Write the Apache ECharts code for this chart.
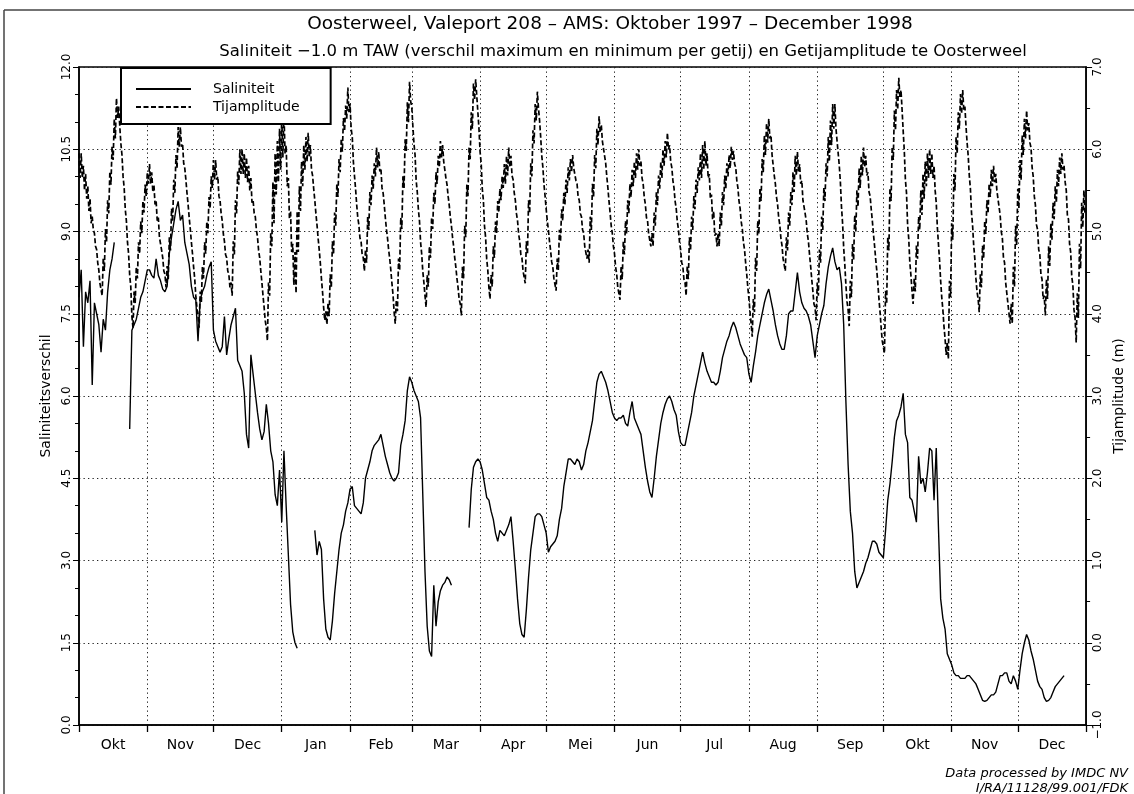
<!DOCTYPE html>
<html><head><meta charset="utf-8">
<script src="https://cdn.jsdelivr.net/npm/echarts@6/dist/echarts.min.js"></script>
<style>html,body{margin:0;padding:0;background:#fff}#chart{width:1134px;height:794px}</style>
</head><body><div id="chart"></div>
<script>
// ---------- DATA ----------
const monthLabels = ['Okt','Nov','Dec','Jan','Feb','Mar','Apr','Mei','Jun','Jul','Aug','Sep','Okt','Nov','Dec'];
const leftTicks = [0, 1.5, 3, 4.5, 6, 7.5, 9, 10.5, 12];
const rightTicks = [-1, 0, 1, 2, 3, 4, 5, 6, 7];

// Salinity difference: daily values, in segments (start day counted from 1 Oct 1997)
const salStartDays = [0, 23, 107, 177];
const salA = [7.8,8.3,6.9,7.9,7.7,8.1,6.2,7.7,7.5,7.3,6.8,7.4,7.2,7.9,8.3,8.5,8.8];
const salB = [5.4,
  7.2,7.3,7.4,7.6,7.8,7.9,8.1,8.3,8.3,8.2,8.15,8.5,8.2,8.1,7.95,7.9,8.0,8.6,8.9,9.15,9.4,9.55,9.2,9.3,8.8,8.6,8.4,8.0,7.8,7.75,7.0,7.75,7.9,8.0,8.2,8.35,8.45,
  7.2,7.0,6.9,6.8,6.9,7.45,6.75,7.05,7.3,7.45,7.6,6.65,6.55,6.45,6.05,5.3,5.05,6.75,6.4,6.05,5.7,5.4,5.2,5.35,5.85,5.5,5.0,4.8,4.2,4.0,4.65,3.7,5.0,4.0,3.1,2.2,1.7,1.5,1.4];
const salC = [3.55,3.1,3.35,3.2,2.3,1.75,1.6,1.55,1.9,2.4,2.8,3.2,3.5,3.65,3.9,4.05,4.3,4.35,4.0,3.95,3.9,3.85,4.05,4.5,4.65,4.8,5.0,5.1,5.15,5.2,5.3,5.1,4.9,4.75,4.6,4.5,4.45,4.5,4.6,5.1,5.3,5.55,6.1,6.35,6.25,6.1,6.0,5.9,5.6,4.2,2.8,1.8,1.35,1.25,2.55,1.8,2.25,2.45,2.55,2.6,2.7,2.65,2.55];
const salD = [3.6,4.3,4.7,4.8,4.85,4.8,4.65,4.4,4.15,4.1,3.9,3.75,3.5,3.35,3.55,3.5,3.45,3.55,3.65,3.8,3.35,2.85,2.3,1.85,1.65,1.6,2.1,2.7,3.2,3.5,
  3.8,3.85,3.85,3.8,3.65,3.5,3.15,3.25,3.3,3.35,3.45,3.75,3.95,4.35,4.6,4.85,4.85,4.8,4.75,4.85,4.8,4.65,4.75,5.0,5.15,5.35,5.55,5.9,6.25,6.4,
  6.45,6.35,6.25,6.1,5.9,5.7,5.6,5.55,5.6,5.6,5.65,5.5,5.45,5.7,5.9,5.6,5.5,5.4,5.3,5.0,4.7,4.45,4.25,4.15,4.5,4.9,5.2,5.5,5.7,5.85,
  5.95,6.0,5.9,5.75,5.65,5.35,5.15,5.1,5.1,5.3,5.5,5.7,6.0,6.2,6.4,6.6,6.8,6.6,6.45,6.35,6.25,6.25,6.2,6.25,6.45,6.7,6.85,7.0,7.1,7.25,
  7.35,7.25,7.1,6.95,6.85,6.75,6.7,6.4,6.25,6.55,6.8,7.1,7.3,7.5,7.7,7.85,7.95,7.75,7.55,7.3,7.1,6.95,6.85,6.85,7.1,7.5,7.55,7.55,7.9,8.25,
  7.9,7.7,7.6,7.55,7.45,7.3,7.0,6.7,7.1,7.3,7.5,7.65,8.05,8.35,8.55,8.7,8.45,8.3,8.35,8.05,7.3,5.9,4.75,3.9,3.5,2.8,2.5,2.6,2.7,2.8,
  2.95,3.05,3.2,3.35,3.35,3.3,3.15,3.1,3.05,3.55,4.1,4.4,4.8,5.25,5.55,5.65,5.8,6.05,5.3,5.15,4.15,4.1,3.9,3.7,4.9,4.4,4.5,4.25,4.6,5.05,
  5.0,4.1,5.05,3.6,2.3,1.95,1.75,1.3,1.2,1.1,0.95,0.9,0.9,0.85,0.85,0.85,0.9,0.9,0.85,0.8,0.75,0.65,0.55,0.45,0.43,0.45,0.5,0.55,0.55,0.6,
  0.75,0.9,0.9,0.95,0.95,0.8,0.75,0.9,0.8,0.65,1.0,1.3,1.5,1.65,1.55,1.35,1.2,1.0,0.8,0.7,0.65,0.5,0.43,0.45,0.5,0.6,0.7,0.75,0.8,0.85,0.9];
const salSegments = [salA, salB, salC, salD];

// Tidal amplitude (m): two values per day (per half day) from 1 Oct 1997
const tidal = [
5.95,5.65,5.95,5.65,5.8,5.5,5.7,5.4,5.55,5.25,5.4,5.1,5.18,5.02,4.98,4.82,4.78,4.62,4.53,4.37,
4.38,4.22,4.68,4.52,5.03,4.87,5.38,5.22,5.73,5.57,6.03,5.87,6.37,6.13,6.62,6.38,6.52,6.28,6.07,5.93,
5.67,5.53,5.27,5.13,4.87,4.73,4.47,4.33,3.97,3.83,4.27,4.13,4.57,4.43,4.87,4.73,5.12,4.98,5.37,5.23,
5.57,5.43,5.72,5.58,5.82,5.58,5.72,5.48,5.57,5.33,5.37,5.13,5.17,4.93,4.93,4.77,4.68,4.52,4.48,4.32,
4.58,4.42,4.93,4.77,5.28,5.12,5.63,5.47,5.93,5.77,6.27,6.03,6.27,6.03,6.07,5.83,5.77,5.63,5.47,5.33,
5.17,5.03,4.87,4.73,4.57,4.43,4.22,4.08,3.97,3.83,4.27,4.13,4.57,4.43,4.87,4.73,5.12,4.98,5.42,5.28,
5.67,5.53,5.87,5.63,5.87,5.63,5.67,5.43,5.38,5.22,5.13,4.97,4.88,4.72,4.68,4.52,4.48,4.32,4.38,4.22,
4.88,4.72,5.38,5.22,5.73,5.57,6.0,5.7,6.0,5.7,5.95,5.65,5.9,5.6,5.8,5.5,5.65,5.35,5.38,5.22,
5.18,5.02,4.93,4.77,4.68,4.52,4.38,4.22,4.08,3.92,3.83,3.67,4.38,4.22,4.98,4.82,5.6,5.1,5.95,5.45,
6.1,5.6,6.25,5.75,6.4,5.9,6.45,5.95,6.05,5.55,5.65,5.15,5.25,4.75,4.85,4.35,4.75,4.25,5.25,4.75,
5.55,5.25,5.85,5.55,6.05,5.75,6.15,5.85,6.2,5.9,6.05,5.75,5.68,5.52,5.38,5.22,5.08,4.92,4.78,4.62,
4.43,4.27,4.08,3.92,4.03,3.87,4.13,3.97,4.48,4.32,4.88,4.72,5.23,5.07,5.58,5.42,5.88,5.72,6.13,5.97,
6.38,6.22,6.53,6.37,6.75,6.45,6.55,6.25,6.15,5.85,5.68,5.52,5.33,5.17,5.08,4.92,4.88,4.72,4.68,4.52,
4.78,4.62,5.18,5.02,5.48,5.32,5.68,5.52,5.83,5.67,6.02,5.78,5.97,5.73,5.77,5.53,5.47,5.33,5.17,5.03,
4.92,4.78,4.67,4.53,4.37,4.23,4.02,3.88,4.17,4.03,4.67,4.53,5.17,5.03,5.67,5.53,6.12,5.98,6.57,6.33,
6.82,6.58,6.52,6.28,6.07,5.93,5.62,5.48,5.27,5.13,4.87,4.73,4.52,4.38,4.22,4.08,4.47,4.33,4.82,4.68,
5.17,5.03,5.47,5.33,5.72,5.58,5.92,5.78,6.1,5.9,6.05,5.85,5.85,5.65,5.57,5.43,5.32,5.18,5.07,4.93,
4.82,4.68,4.57,4.43,4.32,4.18,4.12,3.98,4.57,4.43,5.07,4.93,5.57,5.43,6.02,5.88,6.45,6.25,6.8,6.6,
6.85,6.65,6.45,6.25,5.97,5.83,5.52,5.38,5.07,4.93,4.67,4.53,4.32,4.18,4.47,4.33,4.82,4.68,5.12,4.98,
5.37,5.23,5.52,5.38,5.67,5.53,5.82,5.58,5.92,5.68,6.02,5.78,5.92,5.68,5.63,5.47,5.38,5.22,5.13,4.97,
4.88,4.72,4.68,4.52,4.53,4.37,4.88,4.72,5.38,5.22,5.83,5.67,6.23,6.07,6.55,6.35,6.7,6.5,6.35,6.15,
5.92,5.78,5.57,5.43,5.27,5.13,5.02,4.88,4.77,4.63,4.57,4.43,4.42,4.28,4.67,4.53,5.02,4.88,5.27,5.13,
5.47,5.33,5.63,5.47,5.78,5.62,5.88,5.72,5.93,5.77,5.78,5.62,5.58,5.42,5.38,5.22,5.18,5.02,4.98,4.82,
4.83,4.67,4.78,4.62,5.18,5.02,5.58,5.42,5.93,5.77,6.25,6.05,6.4,6.2,6.3,6.1,6.08,5.92,5.83,5.67,
5.53,5.37,5.23,5.07,4.98,4.82,4.73,4.57,4.48,4.32,4.33,4.17,4.58,4.42,4.88,4.72,5.13,4.97,5.38,5.22,
5.58,5.42,5.75,5.55,5.85,5.65,5.95,5.75,6.0,5.8,5.85,5.65,5.58,5.42,5.33,5.17,5.13,4.97,4.98,4.82,
4.98,4.82,5.23,5.07,5.48,5.32,5.68,5.52,5.85,5.65,6.0,5.8,6.1,5.9,6.2,6.0,6.05,5.85,5.78,5.62,
5.53,5.37,5.28,5.12,5.03,4.87,4.78,4.62,4.58,4.42,4.38,4.22,4.58,4.42,4.93,4.77,5.18,5.02,5.43,5.27,
5.63,5.47,5.78,5.62,5.95,5.65,6.05,5.75,6.1,5.8,5.95,5.65,5.7,5.4,5.45,5.15,5.25,4.95,4.98,4.82,
4.98,4.82,5.23,5.07,5.48,5.32,5.68,5.52,5.83,5.67,5.93,5.77,6.03,5.87,5.98,5.82,5.78,5.62,5.53,5.37,
5.28,5.12,5.03,4.87,4.78,4.62,4.48,4.32,4.18,4.02,3.88,3.72,4.18,4.02,4.68,4.52,5.13,4.97,5.53,5.37,
5.88,5.72,6.17,5.93,6.32,6.08,6.37,6.13,6.17,5.93,5.92,5.68,5.58,5.42,5.33,5.17,5.08,4.92,4.83,4.67,
4.68,4.52,4.93,4.77,5.23,5.07,5.48,5.32,5.72,5.48,5.92,5.68,5.97,5.73,5.82,5.58,5.62,5.38,5.38,5.22,
5.13,4.97,4.88,4.72,4.58,4.42,4.28,4.12,4.08,3.92,4.38,4.22,4.78,4.62,5.18,5.02,5.53,5.37,5.83,5.67,
6.15,5.85,6.35,6.05,6.55,6.25,6.55,6.25,6.25,5.95,5.8,5.6,5.3,5.1,4.8,4.6,4.35,4.15,4.05,3.85,
4.4,4.2,4.85,4.65,5.2,5.0,5.5,5.3,5.77,5.53,5.92,5.68,6.02,5.78,5.92,5.68,5.72,5.48,5.43,5.27,
5.13,4.97,4.83,4.67,4.53,4.37,4.18,4.02,3.83,3.67,3.68,3.52,4.28,4.12,4.93,4.77,5.53,5.37,6.03,5.87,
6.47,6.23,6.72,6.48,6.87,6.63,6.72,6.48,6.22,5.98,5.63,5.47,5.08,4.92,4.63,4.47,4.28,4.12,4.43,4.27,
4.83,4.67,5.18,5.02,5.5,5.2,5.7,5.4,5.85,5.55,5.95,5.65,6.0,5.7,5.95,5.65,5.8,5.5,5.35,5.05,
4.85,4.65,4.4,4.2,4.05,3.85,3.7,3.5,3.65,3.45,4.4,4.2,5.1,4.9,5.7,5.5,6.15,5.95,6.45,6.25,
6.67,6.43,6.72,6.48,6.52,6.28,6.08,5.92,5.68,5.52,5.23,5.07,4.83,4.67,4.43,4.27,4.18,4.02,4.48,4.32,
4.83,4.67,5.13,4.97,5.38,5.22,5.58,5.42,5.75,5.55,5.8,5.6,5.7,5.5,5.5,5.3,5.2,5.0,4.92,4.68,
4.62,4.38,4.37,4.13,4.12,3.88,4.12,3.88,4.57,4.33,5.07,4.83,5.52,5.28,5.87,5.63,6.17,5.93,6.37,6.13,
6.47,6.23,6.32,6.08,6.02,5.78,5.67,5.43,5.32,5.08,5.02,4.78,4.72,4.48,4.42,4.18,4.22,3.98,4.42,4.18,
4.82,4.58,5.1,4.9,5.35,5.15,5.55,5.35,5.75,5.55,5.9,5.7,5.95,5.75,5.8,5.6,5.5,5.2,5.15,4.85,
4.75,4.45,4.35,4.05,3.95,3.65,4.25,3.95,4.85,4.55,5.35,5.05,5.5,5.2];

// ---------- BUILD ----------
const HALF_DAY = 43200000;
const T0 = Date.UTC(1997, 9, 1);
const NCAT = 915; // half-day steps, 1 Oct 1997 00h .. 1 Jan 1999 00h
const categories = [];
for (let i = 0; i < NCAT; i++) categories.push(new Date(T0 + i * HALF_DAY).toISOString().slice(0, 13));
const monthStarts = [];
categories.forEach((c, i) => { if (c.endsWith('-01T00')) monthStarts.push(i); });
const midToLabel = {};
for (let k = 0; k < monthStarts.length - 1; k++) {
  midToLabel[Math.round((monthStarts[k] + monthStarts[k + 1]) / 2)] = monthLabels[k];
}
const startSet = new Set(monthStarts);

const salData = [];
salSegments.forEach((seg, k) => {
  if (k > 0) salData.push([2 * salStartDays[k] - 1, null]);
  seg.forEach((v, i) => salData.push([2 * (salStartDays[k] + i), v]));
});
const tidData = tidal.map((v, i) => [i, v]);

const FONT = 'DejaVu Sans';
const fmt = v => v.toFixed(1).replace('-', '\u2212');
const dotted = { type: [1.3, 3.2], color: '#222', width: 1 };

const chart = echarts.init(document.getElementById('chart'), null, { renderer: 'canvas' });
chart.setOption({
  animation: false,
  backgroundColor: '#fff',
  textStyle: { fontFamily: FONT, color: '#000' },
  title: [
    { text: 'Oosterweel, Valeport 208 \u2013 AMS: Oktober 1997 \u2013 December 1998', left: 605, top: 10, textAlign: 'center',
      textStyle: { fontFamily: FONT, fontSize: 18.5, fontWeight: 'normal', color: '#000' } },
    { text: 'Saliniteit \u22121.0 m TAW (verschil maximum en minimum per getij) en Getijamplitude te Oosterweel', left: 618, top: 38, textAlign: 'center',
      textStyle: { fontFamily: FONT, fontSize: 16.5, fontWeight: 'normal', color: '#000' } }
  ],
  legend: {
    orient: 'vertical', left: 121, top: 68, itemWidth: 55, itemHeight: 14, itemGap: 4,
    padding: [14, 31, 10, 14], borderColor: '#000', borderWidth: 2, backgroundColor: '#fff',
    itemStyle: { opacity: 0 },
    textStyle: { fontFamily: FONT, fontSize: 14, color: '#000', padding: [0, 0, 0, 17] },
    data: ['Saliniteit', 'Tijamplitude']
  },
  grid: { left: 79, right: 44, top: 67, bottom: 69, show: true, borderColor: '#000', borderWidth: 1.5, containLabel: false },
  xAxis: {
    type: 'category', data: categories, boundaryGap: false,
    axisLine: { show: true, lineStyle: { color: '#000', width: 1.5 } },
    axisTick: { show: true, interval: (i) => startSet.has(i), length: 7, lineStyle: { color: '#000', width: 1.3 } },
    axisLabel: { interval: (i) => midToLabel[i] !== undefined, formatter: (v, i) => midToLabel[i] || '',
      fontSize: 14, margin: 13, color: '#000', fontFamily: FONT },
    splitLine: { show: true, interval: (i) => startSet.has(i) && i > 0 && i < NCAT - 1, lineStyle: dotted }
  },
  yAxis: [
    { type: 'value', position: 'left', min: leftTicks[0], max: leftTicks[leftTicks.length - 1], interval: 1.5,
      axisLine: { show: true, lineStyle: { color: '#000', width: 1.5 } },
      axisTick: { show: true, length: 6, lineStyle: { color: '#000' } },
      minorTick: { show: true, splitNumber: 3, length: 4, lineStyle: { color: '#000' } },
      axisLabel: { rotate: 90, formatter: fmt, fontSize: 12, margin: 6, color: '#000', fontFamily: FONT },
      splitLine: { show: true, lineStyle: dotted },
      name: 'Saliniteitsverschil', nameLocation: 'middle', nameRotate: 90, nameGap: 23,
      nameTextStyle: { fontSize: 14, color: '#000', fontFamily: FONT } },
    { type: 'value', position: 'right', min: rightTicks[0], max: rightTicks[rightTicks.length - 1], interval: 1,
      axisLine: { show: true, lineStyle: { color: '#000', width: 1.5 } },
      axisTick: { show: true, length: 6, lineStyle: { color: '#000' } },
      minorTick: { show: true, splitNumber: 2, length: 4, lineStyle: { color: '#000' } },
      axisLabel: { rotate: 90, formatter: fmt, fontSize: 12, margin: 6, color: '#000', fontFamily: FONT },
      splitLine: { show: false },
      name: 'Tijamplitude (m)', nameLocation: 'middle', nameRotate: 90, nameGap: 24,
      nameTextStyle: { fontSize: 14, color: '#000', fontFamily: FONT } }
  ],
  series: [
    { name: 'Saliniteit', type: 'line', yAxisIndex: 0, data: salData, symbol: 'none', showSymbol: false,
      connectNulls: false, lineStyle: { color: '#000', width: 1.4 }, itemStyle: { color: '#000' }, z: 3 },
    { name: 'Tijamplitude', type: 'line', yAxisIndex: 1, data: tidData, symbol: 'none', showSymbol: false,
      lineStyle: { color: '#000', width: 1.7, type: [5, 2.5] }, itemStyle: { color: '#000' }, z: 2 }
  ],
  graphic: [
    { type: 'line', shape: { x1: 4, y1: 10, x2: 1134, y2: 10 }, style: { stroke: '#444', lineWidth: 1.5 }, silent: true },
    { type: 'line', shape: { x1: 4, y1: 10, x2: 4, y2: 794 }, style: { stroke: '#444', lineWidth: 1.5 }, silent: true },
    { type: 'text', right: 6, top: 767, style: { text: 'Data processed by IMDC NV', font: 'italic 13px "DejaVu Sans"', fill: '#000' } },
    { type: 'text', right: 6, top: 782, style: { text: 'I/RA/11128/99.001/FDK', font: 'italic 13px "DejaVu Sans"', fill: '#000' } }
  ]
});
</script></body></html>
